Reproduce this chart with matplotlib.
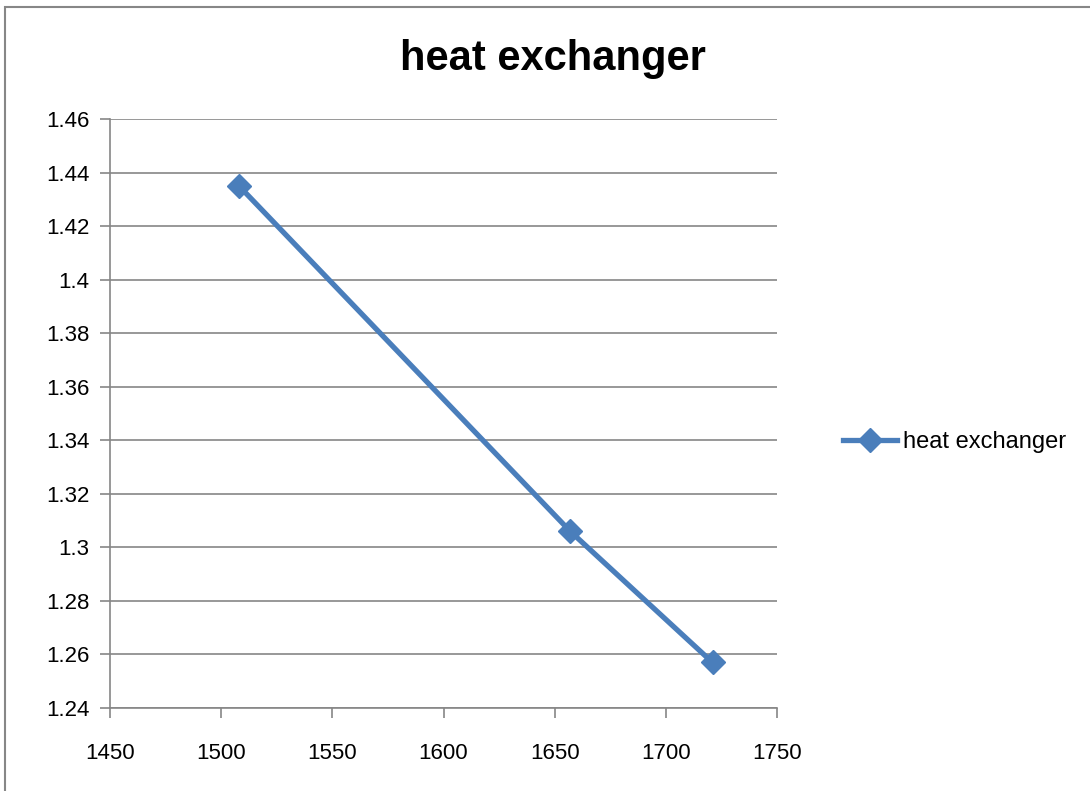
import matplotlib
matplotlib.use("Agg")
import matplotlib.pyplot as plt
from matplotlib.patches import Rectangle
from matplotlib import font_manager

names = {f.name for f in font_manager.fontManager.ttflist}
fam = ["Liberation Sans Narrow", "Liberation Sans", "DejaVu Sans"]
fam = [f for f in fam if f in names] + ["DejaVu Sans"]
plt.rcParams['font.family'] = fam

x_vals = [1508, 1657, 1721]
y_vals = [1.435, 1.306, 1.257]
series_name = "heat exchanger"
title = "heat exchanger"
x_ticks = [1450, 1500, 1550, 1600, 1650, 1700, 1750]
y_ticks = [1.24, 1.26, 1.28, 1.30, 1.32, 1.34, 1.36, 1.38, 1.40, 1.42, 1.44, 1.46]
y_labels = ["1.24", "1.26", "1.28", "1.3", "1.32", "1.34", "1.36", "1.38", "1.4", "1.42", "1.44", "1.46"]

W, H = 1090, 791
fig = plt.figure(figsize=(W/100, H/100), dpi=100)
fig.patches.append(Rectangle((5/W, -0.01), 1.1, 1 - 7/H + 0.01, transform=fig.transFigure,
                             fill=False, edgecolor="#878787", linewidth=1.5))
ax = fig.add_axes([110/W, 1 - 708/H, (777-110)/W, (708-119)/H])
color = "#4a7ebb"
line, = ax.plot(x_vals, y_vals, color=color, linewidth=3.8, marker="D", markersize=12,
                markeredgecolor=color, markerfacecolor=color, label=series_name)
ax.set_xlim(1450, 1750)
ax.set_ylim(1.24, 1.46)
ax.set_xticks(x_ticks)
ax.set_xticklabels([str(t) for t in x_ticks])
ax.set_yticks(y_ticks)
ax.set_yticklabels(y_labels)
ax.grid(axis="y", color="#868686", linewidth=1.2)
ax.set_axisbelow(True)
for s in ["top", "right"]:
    ax.spines[s].set_visible(False)
for s in ["left", "bottom"]:
    ax.spines[s].set_color("#868686")
    ax.spines[s].set_linewidth(1.2)
ax.tick_params(axis="both", colors="#868686", labelcolor="black", labelsize=16, length=7, width=1.2)
ax.tick_params(axis="x", pad=18)
ax.tick_params(axis="y", pad=8)
fig.text(553/W, 1 - 59/H, title, ha="center", va="center", fontsize=30, fontweight="bold")
leg = fig.legend(handles=[line], loc="center left", bbox_to_anchor=(843/W, 1 - 442/H),
                 frameon=False, fontsize=17, handlelength=2.3, handletextpad=0.25, borderpad=0,
                 borderaxespad=0)
fig.savefig("out.png", dpi=100)
